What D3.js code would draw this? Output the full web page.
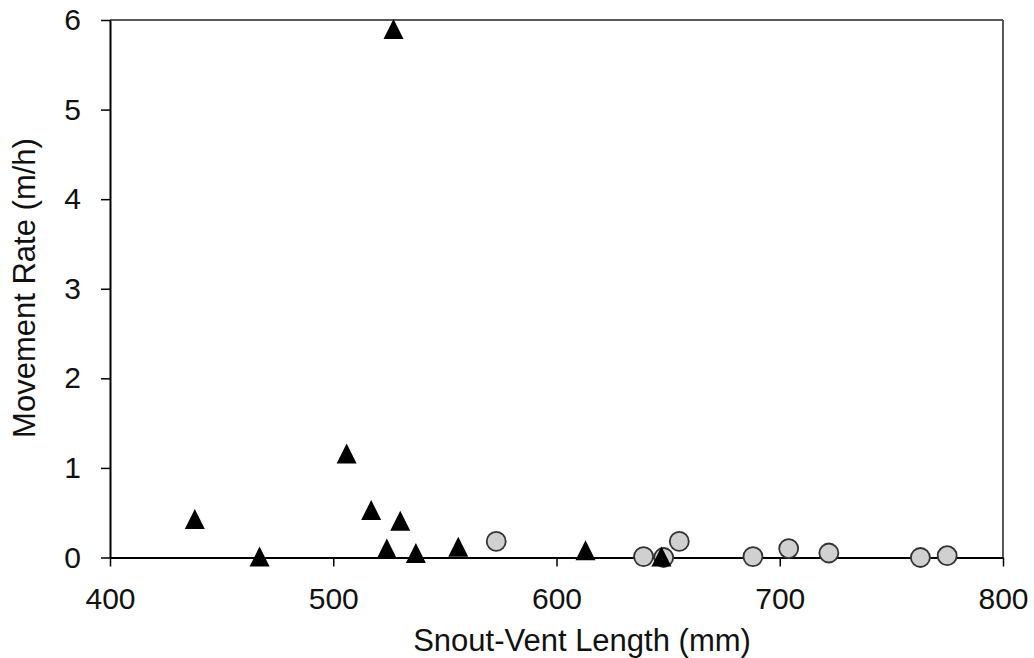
<!DOCTYPE html>
<html>
<head>
<meta charset="utf-8">
<script src="https://cdn.jsdelivr.net/npm/d3@7"></script>
<style>
  html, body { margin: 0; padding: 0; background: #fff; }
  svg { display: block; }
  text { font-family: "Liberation Sans", Arial, sans-serif; fill: #111; }
</style>
</head>
<body>
<svg id="chart" width="1034" height="658"></svg>
<script>
// Series A (black triangles)
const triX = [438, 467, 506, 517, 524, 527, 530, 537, 556, 613, 647];
const triY = [0.43, 0.01, 1.16, 0.53, 0.10, 5.90, 0.41, 0.05, 0.12, 0.08, 0.01];
// Series B (grey circles)
const cirX = [573, 639, 648, 655, 688, 704, 722, 763, 775];
const cirY = [0.18, 0.01, 0.00, 0.18, 0.01, 0.10, 0.05, 0.00, 0.02];
// Ticks
const xTicks = [400, 500, 600, 700, 800];
const yTicks = [0, 1, 2, 3, 4, 5, 6];
const xTitle = "Snout-Vent Length (mm)";
const yTitle = "Movement Rate (m/h)";

const svg = d3.select("#chart");
const pL = 110, pR = 1003, pT = 20, pB = 557.5;

const x = d3.scaleLinear().domain([400, 800]).range([pL, pR]);
const y = d3.scaleLinear().domain([0, 6]).range([pB, pT]);

// frame top & right (grey)
svg.append("line").attr("x1", pL).attr("x2", pR).attr("y1", pT).attr("y2", pT)
  .attr("stroke", "#595959").attr("stroke-width", 2);
svg.append("line").attr("x1", pR).attr("x2", pR).attr("y1", pT).attr("y2", pB)
  .attr("stroke", "#595959").attr("stroke-width", 2);

// axes
const xAxis = svg.append("g").attr("transform", `translate(0,${pB})`)
  .call(d3.axisBottom(x).tickValues(xTicks).tickFormat(d3.format("d"))
    .tickSize(9).tickSizeOuter(0).tickPadding(21));
const yAxis = svg.append("g").attr("transform", `translate(${pL},0)`)
  .call(d3.axisLeft(y).tickValues(yTicks).tickFormat(d3.format("d"))
    .tickSize(9).tickSizeOuter(0).tickPadding(20));

[xAxis, yAxis].forEach(g => {
  g.select(".domain").attr("stroke", "#000").attr("stroke-width", 2);
  g.selectAll(".tick line").attr("stroke", "#000").attr("stroke-width", 1.5);
  g.selectAll(".tick text").style("font-size", "30px").attr("fill", "#111")
    .style("font-family", "'Liberation Sans', Arial, sans-serif");
});

// titles
svg.append("text").attr("x", 582).attr("y", 651).attr("text-anchor", "middle")
  .style("font-size", "31px").text(xTitle);
svg.append("text").attr("transform", "translate(35,288) rotate(-90)").attr("text-anchor", "middle")
  .style("font-size", "31px").text(yTitle);

// circles
const cir = cirX.map((v, i) => ({x: v, y: cirY[i]}));
svg.append("g").selectAll("circle").data(cir).join("circle")
  .attr("cx", d => x(d.x)).attr("cy", d => y(d.y)).attr("r", 9.5)
  .attr("fill", "#d0d0d0").attr("stroke", "#333").attr("stroke-width", 1.8);

// triangles
const tri = triX.map((v, i) => ({x: v, y: triY[i]}));
svg.append("g").selectAll("path").data(tri).join("path")
  .attr("transform", d => `translate(${x(d.x)},${y(d.y)})`)
  .attr("d", "M0,-10L10,10L-10,10Z")
  .attr("fill", "#000");
</script>
</body>
</html>
